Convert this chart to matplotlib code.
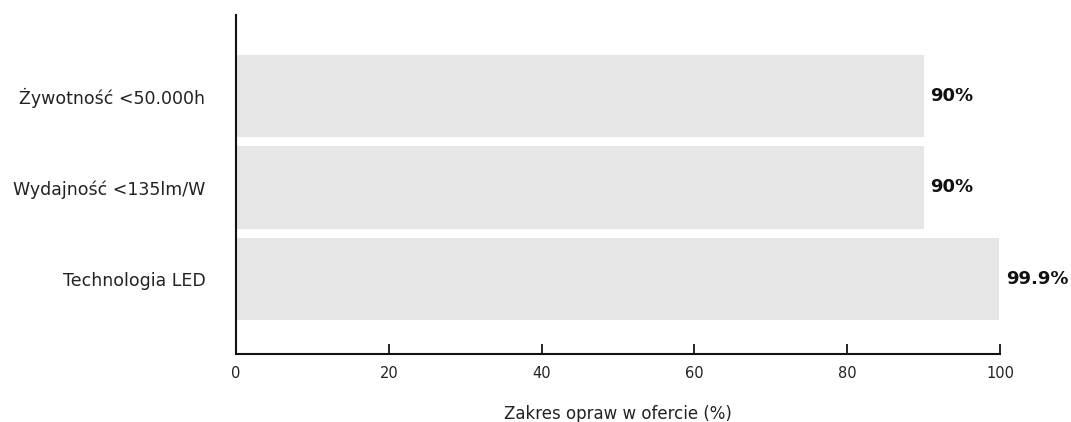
import matplotlib
matplotlib.use("Agg")
import matplotlib.pyplot as plt

plt.rcParams['font.family'] = ['DejaVu Sans']

categories = ["Technologia LED", "Wydajność <135lm/W", "Żywotność <50.000h"]
values = [99.9, 90, 90]
value_labels = ["99.9%", "90%", "90%"]
x_ticks = [0, 20, 40, 60, 80, 100]
x_label = "Zakres opraw w ofercie (%)"

W, H = 1071, 422
fig = plt.figure(figsize=(W / 100, H / 100), dpi=100)
ax = fig.add_axes([236 / W, 1 - 354 / H, (1000 - 236) / W, (354 - 15) / H])

y = list(range(len(categories)))
ax.barh(y, values, height=0.9, color="#e6e6e6")

for yi, v, lab in zip(y, values, value_labels):
    ax.annotate(lab, (v, yi), xytext=(5, 0), textcoords="offset points",
                ha="left", va="center", fontsize=13, fontweight="bold", color="#111111")

ax.set_xlim(0, 100)
ax.set_ylim(-0.82, 2.885)
ax.set_xticks(x_ticks)
ax.set_xticklabels([str(t) for t in x_ticks], fontsize=10.5, color="#222222")
ax.set_yticks(y)
ax.set_yticklabels(categories, fontsize=12.5, color="#222222")
ax.tick_params(axis="x", direction="in", length=7, width=1.2, pad=9)
ax.tick_params(axis="y", length=0, pad=22)
for s in ("top", "right"):
    ax.spines[s].set_visible(False)
for s in ("left", "bottom"):
    ax.spines[s].set_linewidth(1.5)
    ax.spines[s].set_color("#111111")
ax.set_xlabel(x_label, fontsize=12, color="#222222", labelpad=17)

fig.savefig("out.png", dpi=100)
